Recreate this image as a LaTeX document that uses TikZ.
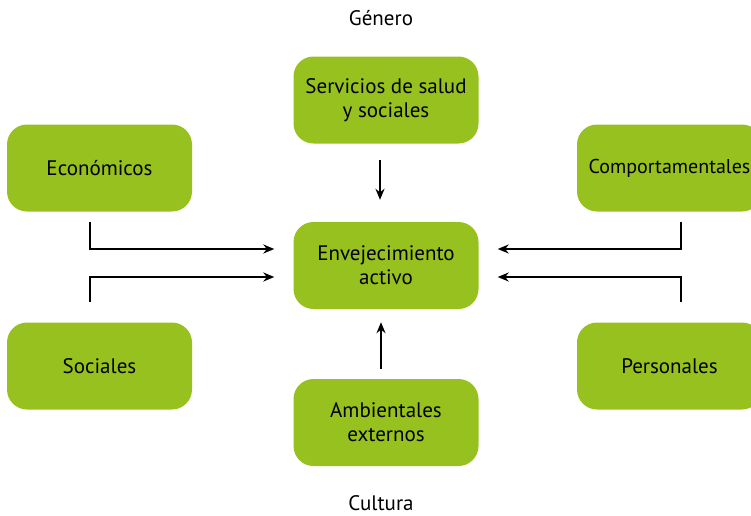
\documentclass[tikz,border=0pt]{standalone}
\usepackage{fontspec}
\setmainfont{PT Sans}
\usetikzlibrary{positioning,arrows.meta}
\definecolor{leaf}{RGB}{150,193,31}
\tikzset{
  factor/.style={shape=rectangle,fill=leaf,rounded corners=20pt,
    minimum width=185pt,minimum height=87pt,inner sep=0pt,align=center,
    font=\fontsize{21}{24}\selectfont},
  label/.style={font=\fontsize{21}{24}\selectfont},
  link/.style={line width=2.4pt,-{Stealth[length=11pt,width=9pt]}}
}
\begin{document}
\begin{tikzpicture}[x=1pt,y=-1pt]
    \useasboundingbox (0,0) rectangle (751,515);
    \node (gen) [label] at (381,18) {Género};
    \node (serv) [factor] at (386,100) {Servicios de salud\\y sociales};
    \node (eco) [factor] at (99.5,168) {Económicos};
    \node (comp) [factor,font=\fontsize{20}{24}\selectfont] at (669.5,168) {Comportamentales};
    \node (env) [factor] at (386,265.5) {Envejecimiento\\activo};
    \node (soc) [factor] at (99.5,366) {Sociales};
    \node (pers) [factor] at (669.5,366) {Personales};
    \node (amb) [factor] at (386,422.5) {Ambientales\\externos};
    \node (cul) [label] at (381,503) {Cultura};
    \draw [link,shorten <=16pt,shorten >=22pt] ([xshift=-6pt]serv.south) -- ([xshift=-6pt]env.north);
    \draw [link,shorten <=10pt,shorten >=13pt] ([xshift=-5pt]amb.north) -- ([xshift=-5pt]env.south);
    \draw [link,shorten <=10pt,shorten >=19pt] ([xshift=-9.5pt]eco.south) |- ([yshift=16.5pt]env.west);
    \draw [link,shorten <=20pt,shorten >=19pt] ([xshift=-9.5pt]soc.north) |- ([yshift=-11.5pt]env.west);
    \draw [link,shorten <=10pt,shorten >=19pt] ([xshift=11.5pt]comp.south) |- ([yshift=16.5pt]env.east);
    \draw [link,shorten <=20pt,shorten >=19pt] ([xshift=11.5pt]pers.north) |- ([yshift=-11.5pt]env.east);
\end{tikzpicture}
\end{document}
